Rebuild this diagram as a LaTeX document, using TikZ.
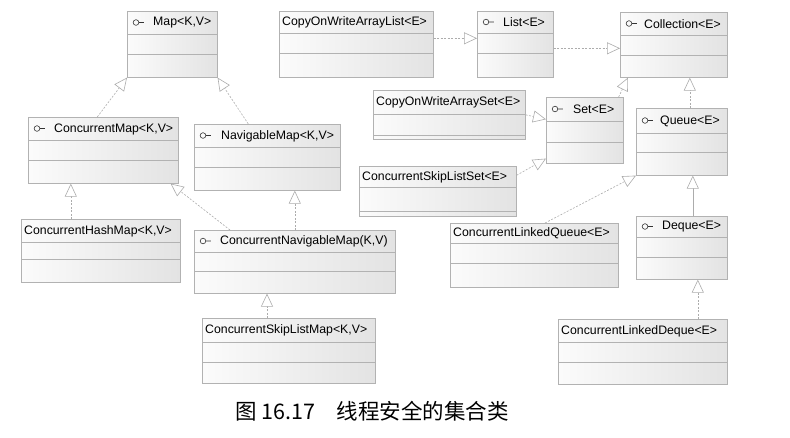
\documentclass[tikz,border=0pt]{standalone}
\usepackage{fontspec}
\setmainfont{Liberation Sans}
\newfontfamily\cjk{Noto Sans CJK SC}
\usetikzlibrary{arrows.meta}

\tikzstyle{umlbox}=[draw=gray!60,left color=gray!3,right color=gray!22,anchor=north west,inner sep=0pt,line width=0.6pt]
\tikzstyle{sep}=[draw=gray!60,line width=0.6pt]
\tikzstyle{title}=[anchor=west,inner sep=0pt,font=\fontsize{12.3}{14}\selectfont]
\tikzstyle{icon}=[draw=black!80,line width=0.6pt]
\tikzstyle{realize}=[draw=gray!65,dash pattern=on 2pt off 1.5pt,line width=0.6pt,-{Triangle[open,length=13pt,width=12pt,fill=white]}]
\tikzstyle{extend}=[realize,solid]
\tikzstyle{caption}=[inner sep=0pt,font=\cjk\fontsize{21.5}{24}\selectfont]

\begin{document}
\begin{tikzpicture}[x=1pt,y=-1pt]
	\useasboundingbox (0,0) rectangle (790,437);
	% the boxes: name/x/y/width/height/first line/second line/interface/text offset/title
	\foreach \n/\x/\y/\w/\h/\ha/\hb/\i/\o/\t in {
		map/127/11/90/66/23/43/1/26/{Map<K,V>},
		cowal/279/11/154/66/22/42/0/3/{CopyOnWriteArrayList<E>},
		list/477/11/76/66/22/42/1/26/{List<E>},
		coll/620/12/107/65/23/43/1/24/{Collection<E>},
		set/546/97/77/66/24/45/1/27/{Set<E>},
		queue/636/108/91/67/25/44/1/24/{Queue<E>},
		cowas/373/90/152/49/24/45/0/3/{CopyOnWriteArraySet<E>},
		csls/359/166/157/50/21/45/0/3/{ConcurrentSkipListSet<E>},
		cmap/28/117/150/66/23/43/1/26/{ConcurrentMap<K,V>},
		nmap/194/124/146/66/23/43/1/27/{NavigableMap<K,V>},
		chm/21/219/159/63/23/40/0/3/{ConcurrentHashMap<K,V>},
		cnm/194/230/201/63/22/41/1/26/{ConcurrentNavigableMap(K,V)},
		cslm/202/318/173/65/24/44/0/3/{ConcurrentSkipListMap<K,V>},
		clq/450/223/168/64/20/40/0/3/{ConcurrentLinkedQueue<E>},
		deque/636/216/91/63/21/41/1/26/{Deque<E>},
		cld/558/319/169/65/23/43/0/3/{ConcurrentLinkedDeque<E>}}
	{
		\node[umlbox,minimum width=\w pt,minimum height=\h pt] (\n) at (\x,\y) {};
		\path[sep] ([yshift=-\ha pt]\n.north west) -- ([yshift=-\ha pt]\n.north east);
		\path[sep] ([yshift=-\hb pt]\n.north west) -- ([yshift=-\hb pt]\n.north east);
		\node[title] (\n-t) at ([xshift=\o pt,yshift={-0.5pt*\ha-0.5pt}]\n.north west) {\t};
		\ifnum\i=1
			\draw[icon] ([xshift=9pt,yshift={-0.5pt*\ha}]\n.north west) circle (2.8pt)
				++(2.8pt,0) -- ++(5pt,0);
		\fi
	}
	% maps
	\draw[realize] ([xshift=-6pt]cmap.north) -- (map.south west);
	\draw[realize] ([xshift=-19pt]nmap.north) -- (map.south east);
	\draw[realize] ([xshift=-30pt]chm.north) -- ([xshift=-30pt]chm.north |- cmap.south);
	\draw[realize] ([xshift=36pt]cnm.north west) -- ([xshift=-8pt]cmap.south east);
	\draw[realize] (cnm.north) -- (cnm.north |- nmap.south);
	\draw[realize] ([xshift=65pt]cslm.north west) -- ([xshift=65pt]cslm.north west |- cnm.south);
	% collections
	\draw[realize] ([yshift=6pt]cowal.east) -- ([yshift=6pt]cowal.east -| list.west);
	\draw[realize] ([yshift=-4pt]list.east) -- ([yshift=-4pt]list.east -| coll.west);
	\draw[realize] ([xshift=-5pt]set.north east) -- ([xshift=8pt]coll.south west);
	\draw[realize] ([xshift=8pt]queue.north) -- ([xshift=8pt]queue.north |- coll.south);
	\draw[realize] (cowas.east) -- ([yshift=11pt]set.west);
	\draw[realize] ([yshift=16pt]csls.east) -- ([yshift=5pt]set.south west);
	\draw[realize] ([xshift=95pt]clq.north west) -- (queue.south west);
	\draw[extend] ([xshift=11pt]deque.north) -- ([xshift=11pt]deque.north |- queue.south);
	\draw[realize] ([xshift=16pt]deque.south |- cld.north) -- ([xshift=16pt]deque.south);
	% caption
	\node[caption] (cap) at (372,411) {图 16.17　线程安全的集合类};
\end{tikzpicture}
\end{document}
